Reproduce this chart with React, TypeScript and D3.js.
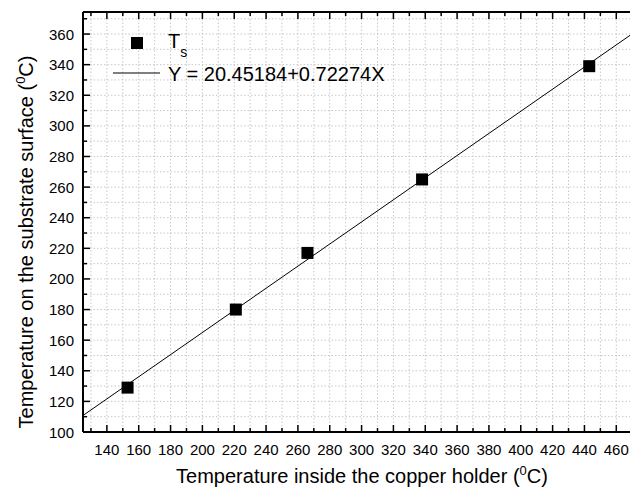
import React from "react";
import * as d3 from "d3";

const xValues = [153, 221, 266, 338, 443];
const yValues = [129, 180, 217, 265, 339];
const fitIntercept = 20.45184;
const fitSlope = 0.72274;
const xTickLabels = [140, 160, 180, 200, 220, 240, 260, 280, 300, 320, 340, 360, 380, 400, 420, 440, 460];
const yTickLabels = [100, 120, 140, 160, 180, 200, 220, 240, 260, 280, 300, 320, 340, 360];

const W = 630, H = 497;
const L = 83, R = 633, T = 12, B = 432;

export default function App() {
  const x = d3.scaleLinear().domain([125, 470.5]).range([L, R]);
  const y = d3.scaleLinear().domain([100, 374.4]).range([B, T]);
  const xMinor = d3.range(130, 471, 10);
  const yMinor = d3.range(110, 375, 10);
  const font = "'Liberation Sans', Arial, sans-serif";
  const x0 = 125, x1 = 470.5;
  return (
    <svg width={W} height={H} style={{ position: "absolute", left: 0, top: 0 }} fontFamily={font}>
      <rect width={W} height={H} fill="#fff" />
      {/* grid */}
      {xMinor.map((v) => (
        <line key={"gx" + v} x1={x(v)} x2={x(v)} y1={T} y2={B} stroke="#c8c8c8" strokeDasharray="1.5,2" strokeWidth={1} />
      ))}
      {yMinor.map((v) => (
        <line key={"gy" + v} x1={L} x2={R} y1={y(v)} y2={y(v)} stroke="#c8c8c8" strokeDasharray="1.5,2" strokeWidth={1} />
      ))}
      {/* fit line */}
      <line x1={x(x0)} y1={y(fitIntercept + fitSlope * x0)} x2={x(x1)} y2={y(fitIntercept + fitSlope * x1)} stroke="#000" strokeWidth={1} />
      {/* points */}
      {xValues.map((v, i) => (
        <rect key={"p" + i} x={x(v) - 6} y={y(yValues[i]) - 6} width={12} height={12} fill="#000" />
      ))}
      {/* axes frame */}
      <line x1={L} x2={R} y1={B} y2={B} stroke="#000" strokeWidth={2} />
      <line x1={L} x2={R} y1={T} y2={T} stroke="#000" strokeWidth={2} />
      <line x1={L} x2={L} y1={T} y2={B} stroke="#000" strokeWidth={2} />
      {/* x ticks */}
      {xMinor.map((v) => {
        const major = v % 20 === 0;
        const len = major ? 7 : 4;
        return (
          <g key={"tx" + v}>
            <line x1={x(v)} x2={x(v)} y1={B} y2={B - len} stroke="#000" strokeWidth={1.5} />
            <line x1={x(v)} x2={x(v)} y1={T} y2={T + len} stroke="#000" strokeWidth={1.5} />
          </g>
        );
      })}
      {xTickLabels.map((v) => (
        <text key={"lx" + v} x={x(v)} y={B + 23} textAnchor="middle" fontSize={15}>{v}</text>
      ))}
      {/* y ticks */}
      {yMinor.map((v) => {
        const major = v % 20 === 0;
        const len = major ? 7 : 4;
        return <line key={"ty" + v} x1={L} x2={L + len} y1={y(v)} y2={y(v)} stroke="#000" strokeWidth={1.5} />;
      })}
      {yTickLabels.map((v) => (
        <text key={"ly" + v} x={L - 9} y={y(v) + 5.5} textAnchor="end" fontSize={15}>{v}</text>
      ))}
      {/* legend */}
      <rect x={131} y={37} width={12} height={12} fill="#000" />
      <text x={168} y={48} fontSize={20}>T<tspan fontSize={14} dy={9}>s</tspan></text>
      <line x1={113} x2={160} y1={73} y2={73} stroke="#000" strokeWidth={1} />
      <text x={168} y={81} fontSize={20}>Y = 20.45184+0.72274X</text>
      {/* axis titles */}
      <text x={362} y={483} textAnchor="middle" fontSize={20}>
        Temperature inside the copper holder (<tspan fontSize={13} dy={-8}>0</tspan><tspan dy={8}>C)</tspan>
      </text>
      <text transform={`translate(33,242) rotate(-90)`} textAnchor="middle" fontSize={20}>
        Temperature on the substrate surface (<tspan fontSize={13} dy={-8}>0</tspan><tspan dy={8}>C)</tspan>
      </text>
    </svg>
  );
}
